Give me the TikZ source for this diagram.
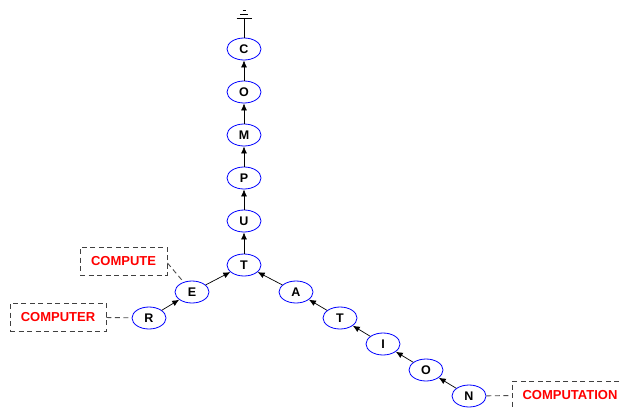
\documentclass[tikz,border=0pt]{standalone}
\usepackage{fontspec}
\setmainfont{Liberation Sans}
\usetikzlibrary{shapes.geometric,arrows.meta}
\begin{document}
\begin{tikzpicture}[x=1pt,y=-1pt,
  letter/.style={ellipse,draw=blue,line width=0.8pt,minimum width=34pt,minimum height=22pt,inner sep=0pt,font=\fontsize{12.5}{12.5}\selectfont\bfseries},
  word/.style={draw=black!75,dash pattern=on 5pt off 3.5pt,line width=0.9pt,minimum width=87pt,minimum height=28pt,inner sep=0pt,text=red,font=\fontsize{13}{13}\selectfont\bfseries},
  link/.style={line width=0.7pt,-{Latex[length=7pt,width=6pt]}},
  tag/.style={dash pattern=on 5pt off 3.5pt,draw=black!70,line width=0.9pt}]
\useasboundingbox (0,0) rectangle (623,409);
% trunk of the tree
\node[letter] (c) at (244,49) {C};
\node[letter] (o) at (244,92) {O};
\node[letter] (m) at (244,135) {M};
\node[letter] (p) at (244,178) {P};
\node[letter] (u) at (244,221) {U};
\node[letter] (t) at (244,265) {T};
% left branch
\node[letter] (e) at (192,292) {E};
\node[letter] (r) at (149,318) {R};
% right branch
\node[letter] (a) at (296,292) {A};
\node[letter] (t2) at (340,318) {T};
\node[letter] (i) at (383,344) {I};
\node[letter] (o2) at (426,370) {O};
\node[letter] (n) at (469,396) {N};
% word labels
\node[word] (w1) at (123.5,261) {COMPUTE};
\node[word,minimum width=96pt] (w2) at (58,317) {COMPUTER};
\node[word,minimum width=116pt] (w3) at (570,395) {COMPUTATION};
% root marker
\coordinate (g) at (244,18);
\draw[line width=0.8pt] (c) -- (g);
\draw[line width=0.8pt] (236.5,18) -- (251.5,18);
\draw[line width=0.8pt] (240,14) -- (248,14);
\draw[line width=0.8pt] (242.5,10) -- (245.5,10);
% edges
\draw[link] (o) -- (c);
\draw[link] (m) -- (o);
\draw[link] (p) -- (m);
\draw[link] (u) -- (p);
\draw[link] (t) -- (u);
\draw[link] (e) -- (t);
\draw[link] (r) -- (e);
\draw[link] (a) -- (t);
\draw[link] (t2) -- (a);
\draw[link] (i) -- (t2);
\draw[link] (o2) -- (i);
\draw[link] (n) -- (o2);
% word attachments
\draw[tag] (w1.east) ++(0,2) -- (e);
\draw[tag] (w2) -- (r);
\draw[tag] (n) -- (w3);
\end{tikzpicture}
\end{document}
